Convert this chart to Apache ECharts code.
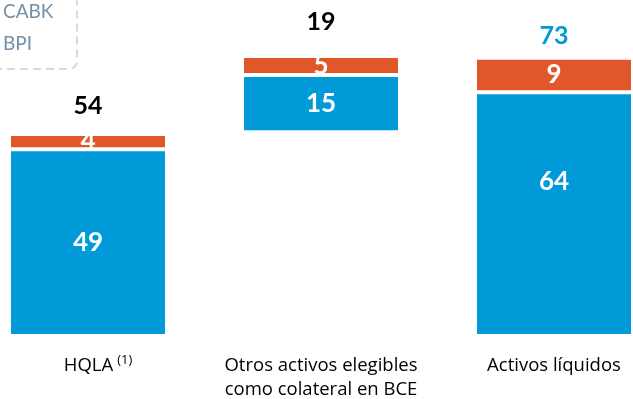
<!DOCTYPE html>
<html>
<head>
<meta charset="utf-8">
<script src="https://cdn.jsdelivr.net/npm/echarts@6/dist/echarts.min.js"></script>
<style>
  html, body { margin: 0; padding: 0; background: #ffffff; }
  #chart { width: 633px; height: 399px; }
</style>
</head>
<body>
<div id="chart"></div>
<script>
// Liquidity build-up, bn EUR
const categories = ['HQLA', 'Otros activos elegibles\ncomo colateral en BCE', 'Activos líquidos'];
const offsetValues = [0, 53.5, 0];      // invisible floor for the middle (bridge) column
const cabkValues = [49, 15, 64];
const bpiValues = [4, 5, 9];
const totalValues = [54, 19, 73];
const legendNames = ['CABK', 'BPI'];

const BLUE = '#009ad8';
const ORANGE = '#e0582a';
const FONT = 'Lato, "Open Sans", sans-serif';
const AXIS_FONT = '"Open Sans", Lato, sans-serif';

// label placement tweaks per column
const totalLabelDistance = [16, 22, 9];
const totalLabelColor = ['#000000', '#000000', BLUE];
const cabkLabelShift = [0, 0, -32];

const chart = echarts.init(document.getElementById('chart'));

chart.setOption({
  animation: false,
  textStyle: { fontFamily: FONT },
  grid: {
    left: -28.5, right: -37.5, top: -45, bottom: 63,
    containLabel: false,
    outerBoundsMode: 'none'
  },
  xAxis: {
    type: 'category',
    data: categories,
    axisLine: { show: false },
    axisTick: { show: false },
    axisLabel: {
      interval: 0,
      margin: 18,
      color: '#000000',
      fontSize: 18.5,
      lineHeight: 24,
      fontFamily: AXIS_FONT,
      formatter: function (v, i) {
        return i === 0 ? '{g|}{a|' + v + '}{s|(1)}' : v;
      },
      rich: {
        g: { width: 20 },
        a: { fontSize: 18.5, lineHeight: 24, fontFamily: AXIS_FONT, color: '#000' },
        s: { fontSize: 13, lineHeight: 10, verticalAlign: 'top', padding: [0, 0, 0, 4], fontFamily: AXIS_FONT, color: '#000' }
      }
    }
  },
  yAxis: { type: 'value', min: 0, max: 100, show: false, splitLine: { show: false } },
  series: [
    {
      name: 'offset',
      type: 'bar',
      stack: 'liq',
      barWidth: 158,
      silent: true,
      itemStyle: { color: 'rgba(0,0,0,0)' },
      data: offsetValues
    },
    {
      name: legendNames[0],
      type: 'bar',
      stack: 'liq',
      barWidth: 158,
      itemStyle: { color: BLUE, borderColor: '#ffffff', borderWidth: 2 },
      label: {
        show: true,
        position: 'inside',
        color: '#ffffff',
        fontWeight: 'bold',
        fontSize: 26,
        fontFamily: FONT
      },
      data: cabkValues.map((v, i) => ({ value: v, label: { offset: [0, cabkLabelShift[i]] } }))
    },
    {
      name: legendNames[1],
      type: 'bar',
      stack: 'liq',
      barWidth: 158,
      itemStyle: { color: ORANGE, borderColor: '#ffffff', borderWidth: 2 },
      label: {
        show: true,
        position: 'inside',
        color: '#ffffff',
        fontWeight: 'bold',
        fontSize: 26,
        fontFamily: FONT
      },
      data: bpiValues
    },
    {
      name: 'total',
      type: 'bar',
      stack: 'liq',
      barWidth: 158,
      silent: true,
      itemStyle: { color: 'rgba(0,0,0,0)' },
      label: {
        show: true,
        position: 'top',
        fontWeight: 'bold',
        fontSize: 25,
        fontFamily: FONT,
        formatter: p => String(totalValues[p.dataIndex])
      },
      data: totalValues.map((t, i) => ({
        value: 0,
        label: { distance: totalLabelDistance[i], color: totalLabelColor[i] }
      }))
    }
  ],
  graphic: [
    {
      type: 'rect',
      silent: true,
      shape: { x: -40, y: -40, width: 117, height: 109, r: 8 },
      style: { fill: 'none', stroke: '#d9d9d9', lineWidth: 2, lineDash: [8, 5] }
    },
    {
      type: 'text',
      left: 3, top: 2,
      style: { text: legendNames[0], fill: '#7490a6', fontSize: 19, fontFamily: FONT }
    },
    {
      type: 'text',
      left: 3, top: 34,
      style: { text: legendNames[1], fill: '#7490a6', fontSize: 19, fontFamily: FONT }
    }
  ]
});
</script>
</body>
</html>
